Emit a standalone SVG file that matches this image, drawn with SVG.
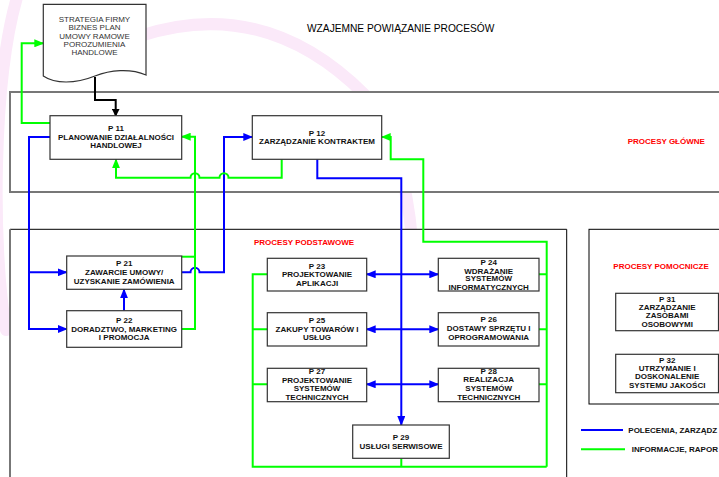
<svg xmlns="http://www.w3.org/2000/svg" width="719" height="477" viewBox="0 0 719 477">
<style>
.bx{fill:#fff;stroke:#333;stroke-width:1.2}
.t{font-family:"Liberation Sans",Arial,sans-serif;font-size:8px;font-weight:bold;text-anchor:middle;fill:#111}
.d{font-family:"Liberation Sans",Arial,sans-serif;font-size:8px;text-anchor:middle;fill:#333}
.r{font-family:"Liberation Sans",Arial,sans-serif;font-size:8px;font-weight:bold;fill:#ff0000}
.lg{font-family:"Liberation Sans",Arial,sans-serif;font-size:8px;font-weight:bold;fill:#111}
.b{stroke:#0000ff;stroke-width:2;fill:none}
.g{stroke:#00ff00;stroke-width:2;fill:none}
.k{stroke:#000;stroke-width:2;fill:none}
.wm{stroke:#fbe9f9;stroke-width:12;fill:none;stroke-linecap:round}
</style>
<defs>
<marker id="ab" viewBox="0 0 10 8" refX="9" refY="4" markerWidth="10" markerHeight="8" orient="auto-start-reverse" markerUnits="userSpaceOnUse"><path d="M0,0 L10,4 L0,8 z" fill="#0000ff"/></marker>
<marker id="ag" viewBox="0 0 10 8" refX="9" refY="4" markerWidth="10" markerHeight="8" orient="auto-start-reverse" markerUnits="userSpaceOnUse"><path d="M0,0 L10,4 L0,8 z" fill="#00ff00"/></marker>
<marker id="ak" viewBox="0 0 8 8" refX="7" refY="4" markerWidth="8" markerHeight="8" orient="auto" markerUnits="userSpaceOnUse"><path d="M0,0 L8,4 L0,8 z" fill="#000"/></marker>
</defs>
<rect width="719" height="477" fill="#fff"/>
<g id="watermark">
<path class="wm" d="M140 36 Q265 -5 365 95 Q405 150 412 240"/>
<path class="wm" d="M18 -6 C-8 80 -8 250 6 330" stroke-width="10"/>
</g>
<g id="frames">
<rect id="band-main" x="10" y="92" width="715" height="100" fill="#fff" stroke="#777" stroke-width="2"/>
<rect x="10" y="229.3" width="556.7" height="260" fill="#fff"/>
<line x1="10" y1="229.3" x2="566.7" y2="229.3" stroke="#000" stroke-width="1"/>
<line x1="10" y1="229.3" x2="10" y2="477" stroke="#777" stroke-width="2"/>
<line x1="566.7" y1="229.3" x2="566.7" y2="477" stroke="#000" stroke-width="1"/>
<rect id="band-support" x="589" y="229.3" width="140" height="174.7" fill="#fff" stroke="#000" stroke-width="1"/>
</g>
<text x="307" y="32" font-family="Liberation Sans,Arial,sans-serif" font-size="10.2" fill="#000">WZAJEMNE POWIĄZANIE PROCESÓW</text>
<text class="r" x="627.7" y="144">PROCESY GŁÓWNE</text>
<text class="r" x="254" y="245">PROCESY PODSTAWOWE</text>
<text class="r" x="613.3" y="268.6">PROCESY POMOCNICZE</text>
<g id="connectors">
<path class="k" d="M95 77 V100 H115.7 V115.7" marker-end="url(#ak)"/>
<path class="g" d="M50 123 H21.7 V43.3 H43.3" marker-end="url(#ag)"/>
<path class="b" d="M50 137 H29 V329 H66.7" marker-end="url(#ab)"/>
<path class="b" d="M29 272.3 H66.7" marker-end="url(#ab)"/>
<path class="b" d="M124 310.7 V289.3" marker-end="url(#ab)"/>
<path class="b" d="M181.7 272.3 H190.5 a4.5 4.5 0 0 1 9 0 H224 V137 H252.3" marker-end="url(#ab)"/>
<path class="g" d="M181.7 329 H195 V136.7 H181.7" marker-end="url(#ag)"/>
<path class="g" d="M181.7 256.7 H195"/>
<path class="g" d="M281.7 159.3 V177.7 H228.5 a4.5 4.5 0 0 0 -9 0 H199.5 a4.5 4.5 0 0 0 -9 0 H116 V159.3" marker-end="url(#ag)"/>
<path class="b" d="M317.3 159.3 V178.3 H401.3 V425" marker-end="url(#ab)"/>
<path class="g" d="M546.7 466.7 V241.7 H423.3 V159.3 H390.7 V137 H381.7" marker-end="url(#ag)"/>
<path class="b" d="M366.7 274.3 H438.3" marker-start="url(#ab)" marker-end="url(#ab)"/>
<path class="b" d="M366.7 329.3 H438.3" marker-start="url(#ab)" marker-end="url(#ab)"/>
<path class="b" d="M366.7 384.3 H438.3" marker-start="url(#ab)" marker-end="url(#ab)"/>
<path class="g" d="M267.3 274.3 H252.7 V466.7 H546.7"/>
<path class="g" d="M252.7 329.3 H267.3 M252.7 384.3 H267.3 M401.3 458.3 V466.7"/>
<path class="g" d="M539 274.3 H546.7 M539 329.3 H546.7 M539 384.3 H546.7"/>
</g>
<g id="doc">
<path d="M43.3 4.3 H146 V75 C130 68 110 70 95 76 C75 84 55 84 43.3 76 Z" fill="#fff" stroke="#333" stroke-width="1.2"/>
<text class="d" x="94.5" y="22">STRATEGIA FIRMY</text>
<text class="d" x="94.5" y="30.3">BIZNES PLAN</text>
<text class="d" x="94.5" y="38.6">UMOWY RAMOWE</text>
<text class="d" x="94.5" y="46.9">POROZUMIENIA</text>
<text class="d" x="94.5" y="55.2">HANDLOWE</text>
</g>
<g id="p11">
<rect class="bx" x="50" y="115.7" width="131.7" height="43.6"/>
<text class="t" x="116" y="131">P 11</text>
<text class="t" x="116" y="139.8">PLANOWANIE DZIAŁALNOŚCI</text>
<text class="t" x="116" y="148.4">HANDLOWEJ</text>
</g>
<g id="p12">
<rect class="bx" x="252.3" y="115.7" width="129.4" height="43.6"/>
<text class="t" x="317" y="135.6">P 12</text>
<text class="t" x="317" y="143.6">ZARZĄDZANIE KONTRAKTEM</text>
</g>
<g id="p21">
<rect class="bx" x="66.7" y="256" width="115" height="33.3"/>
<text class="t" x="124.2" y="266.2">P 21</text>
<text class="t" x="124.2" y="275.2">ZAWARCIE UMOWY/</text>
<text class="t" x="124.2" y="283.6">UZYSKANIE ZAMÓWIENIA</text>
</g>
<g id="p22">
<rect class="bx" x="66.7" y="310.7" width="115" height="36.6"/>
<text class="t" x="124.2" y="322.9">P 22</text>
<text class="t" x="124.2" y="331.6">DORADZTWO, MARKETING</text>
<text class="t" x="124.2" y="339.9">I PROMOCJA</text>
</g>
<g id="p23">
<rect class="bx" x="267.3" y="258.3" width="99.4" height="32.7"/>
<text class="t" x="317" y="268.6">P 23</text>
<text class="t" x="317" y="276.6">PROJEKTOWANIE</text>
<text class="t" x="317" y="285.6">APLIKACJI</text>
</g>
<g id="p24">
<rect class="bx" x="438.3" y="258.3" width="100.7" height="32.7"/>
<text class="t" x="488.7" y="264.6">P 24</text>
<text class="t" x="488.7" y="273.6">WDRAŻANIE</text>
<text class="t" x="488.7" y="281.2">SYSTEMÓW</text>
<text class="t" x="488.7" y="289.6">INFORMATYCZNYCH</text>
</g>
<g id="p25">
<rect class="bx" x="267.3" y="312.7" width="99.4" height="33.3"/>
<text class="t" x="317" y="322.6">P 25</text>
<text class="t" x="317" y="331.6">ZAKUPY TOWARÓW I</text>
<text class="t" x="317" y="339.9">USŁUG</text>
</g>
<g id="p26">
<rect class="bx" x="438.3" y="312.7" width="100.7" height="33.3"/>
<text class="t" x="488.7" y="322.2">P 26</text>
<text class="t" x="488.7" y="330.9">DOSTAWY SPRZĘTU I</text>
<text class="t" x="488.7" y="339.6">OPROGRAMOWANIA</text>
</g>
<g id="p27">
<rect class="bx" x="267.3" y="368.3" width="99.4" height="33.4"/>
<text class="t" x="317" y="373.6">P 27</text>
<text class="t" x="317" y="382.9">PROJEKTOWANIE</text>
<text class="t" x="317" y="390.9">SYSTEMÓW</text>
<text class="t" x="317" y="399.6">TECHNICZNYCH</text>
</g>
<g id="p28">
<rect class="bx" x="438.3" y="368.3" width="100.7" height="33.4"/>
<text class="t" x="488.7" y="373.6">P 28</text>
<text class="t" x="488.7" y="381.9">REALIZACJA</text>
<text class="t" x="488.7" y="390.6">SYSTEMÓW</text>
<text class="t" x="488.7" y="399.6">TECHNICZNYCH</text>
</g>
<g id="p29">
<rect class="bx" x="352.7" y="425" width="96.6" height="33.3"/>
<text class="t" x="401" y="440.2">P 29</text>
<text class="t" x="401" y="448.9">USŁUGI SERWISOWE</text>
</g>
<g id="p31">
<rect class="bx" x="615.7" y="293.3" width="102.8" height="37.4"/>
<text class="t" x="667.2" y="301.9">P 31</text>
<text class="t" x="667.2" y="310.2">ZARZĄDZANIE</text>
<text class="t" x="667.2" y="318.2">ZASOBAMI</text>
<text class="t" x="667.2" y="326.6">OSOBOWYMI</text>
</g>
<g id="p32">
<rect class="bx" x="615.7" y="354.3" width="102.8" height="38.4"/>
<text class="t" x="667.2" y="362.9">P 32</text>
<text class="t" x="667.2" y="371.2">UTRZYMANIE I</text>
<text class="t" x="667.2" y="379.2">DOSKONALENIE</text>
<text class="t" x="667.2" y="388.2">SYSTEMU JAKOŚCI</text>
</g>
<g id="legend">
<line x1="581" y1="430" x2="623" y2="430" stroke="#0000ff" stroke-width="2"/>
<text class="lg" x="628.3" y="432.8">POLECENIA, ZARZĄDZ</text>
<line x1="581" y1="449.3" x2="625" y2="449.3" stroke="#00ff00" stroke-width="2"/>
<text class="lg" x="631.7" y="452.1">INFORMACJE, RAPOR</text>
</g>
</svg>
